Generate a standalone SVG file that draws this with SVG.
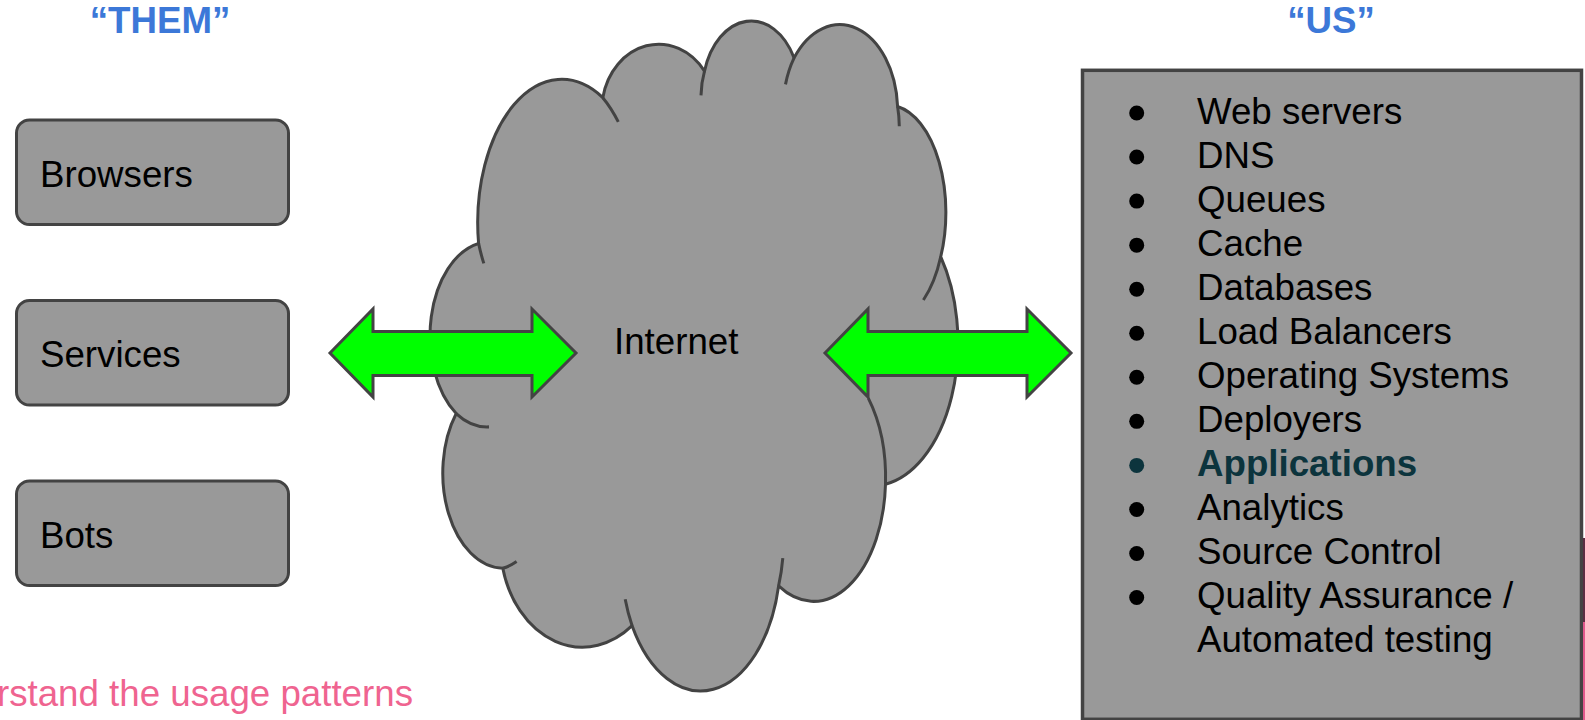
<svg xmlns="http://www.w3.org/2000/svg" width="1585" height="720" viewBox="0 0 1585 720">
<style>
.t{font-family:"Liberation Sans",Arial,sans-serif;font-size:36.7px;fill:#000}
.hdr{font-family:"Liberation Sans",Arial,sans-serif;font-size:36.7px;font-weight:bold;fill:#3c78d8;text-anchor:middle}
.box{fill:#999999;stroke:#434343;stroke-width:3}
.cl{fill:#999999;stroke:#434343;stroke-width:3;stroke-linejoin:round}
.hk{fill:none;stroke:#434343;stroke-width:3}
.arr{fill:#00ff00;stroke:#434343;stroke-width:3;stroke-linejoin:miter}
.bul{fill:#000}
</style>
<rect width="1585" height="720" fill="#ffffff"/>
<g id="headers">
<text class="hdr" x="160" y="33">“THEM”</text>
<text class="hdr" x="1331" y="33">“US”</text>
</g>
<g id="node-browsers">
<rect class="box" x="16.5" y="120" width="272" height="104.5" rx="13"/>
<text class="t" x="40" y="186.5">Browsers</text>
</g>
<g id="node-services">
<rect class="box" x="16.5" y="300.5" width="272" height="104.5" rx="13"/>
<text class="t" x="40" y="367">Services</text>
</g>
<g id="node-bots">
<rect class="box" x="16.5" y="481" width="272" height="104.5" rx="13"/>
<text class="t" x="40" y="547.5">Bots</text>
</g>
<g id="node-internet">
<g transform="translate(0,353) scale(1,1.023) translate(0,-353)">
<path class="cl" d="M602.8,103.4 A57,65 0 0 1 704.5,77.5 A49,70 0 0 1 794.1,64.5 A58,85 0 0 1 897.6,112 A58,105 0 0 1 940.7,258.9 A86,140 0 0 1 885.5,481.3 A72,120 0 0 1 778.6,580.7 A80,132 0 0 1 632.1,619.6 A82,102 0 0 1 502.8,563.4 A61,93 0 0 1 456.2,412.2 A60,92 0 0 1 478.6,245.9 A84,140 0 0 1 602.8,103.4 Z"/>
<path class="hk" d="M602.8,103.4 A84,140 0 0 1 618.3,127.1"/>
<path class="hk" d="M704.5,77.5 A49,70 0 0 0 701,101.2"/>
<path class="hk" d="M794.1,64.5 A58,85 0 0 0 785.5,90.4"/>
<path class="hk" d="M897.6,112 A58,85 0 0 1 899.3,131.4"/>
<path class="hk" d="M940.7,258.9 A58,105 0 0 1 923.4,301.2"/>
<path class="hk" d="M885.5,481.3 A72,120 0 0 0 868.3,397.1"/>
<path class="hk" d="M778.6,580.7 A80,132 0 0 0 782.8,553.5"/>
<path class="hk" d="M632.1,619.6 A80,132 0 0 1 625.2,593.7"/>
<path class="hk" d="M502.8,563.4 A61,93 0 0 0 516.6,556.9"/>
<path class="hk" d="M456.2,412.2 A60,92 0 0 0 489,425.2"/>
<path class="hk" d="M478.6,245.9 A84,140 0 0 0 483.8,265.4"/>
</g>
<text class="t" x="614" y="354">Internet</text>
</g>
<g id="node-us">
<rect x="1082.5" y="70.3" width="499" height="649" fill="#999999" stroke="#434343" stroke-width="3.5"/>
<g class="bullets">
<circle class="bul" cx="1136.7" cy="113" r="7.5"/>
<circle class="bul" cx="1136.7" cy="157.05" r="7.5"/>
<circle class="bul" cx="1136.7" cy="201.1" r="7.5"/>
<circle class="bul" cx="1136.7" cy="245.15" r="7.5"/>
<circle class="bul" cx="1136.7" cy="289.2" r="7.5"/>
<circle class="bul" cx="1136.7" cy="333.25" r="7.5"/>
<circle class="bul" cx="1136.7" cy="377.3" r="7.5"/>
<circle class="bul" cx="1136.7" cy="421.35" r="7.5"/>
<circle cx="1136.7" cy="465.4" r="7.5" fill="#0c343d"/>
<circle class="bul" cx="1136.7" cy="509.45" r="7.5"/>
<circle class="bul" cx="1136.7" cy="553.5" r="7.5"/>
<circle class="bul" cx="1136.7" cy="597.55" r="7.5"/>
</g>
<text class="t" x="1197" y="123.5">Web servers</text>
<text class="t" x="1197" y="167.55">DNS</text>
<text class="t" x="1197" y="211.6">Queues</text>
<text class="t" x="1197" y="255.65">Cache</text>
<text class="t" x="1197" y="299.7">Databases</text>
<text class="t" x="1197" y="343.75">Load Balancers</text>
<text class="t" x="1197" y="387.8">Operating Systems</text>
<text class="t" x="1197" y="431.85">Deployers</text>
<text class="t" x="1197" y="475.9" style="font-weight:bold;fill:#0c343d">Applications</text>
<text class="t" x="1197" y="519.95">Analytics</text>
<text class="t" x="1197" y="564">Source Control</text>
<text class="t" x="1197" y="608.05">Quality Assurance /</text>
<text class="t" x="1197" y="652.1">Automated testing</text>
</g>
<g id="connectors">
<polygon class="arr" points="330,353 373,309 373,331.5 532,331.5 532,309 576,353 532,397 532,375.5 373,375.5 373,397"/>
<polygon class="arr" points="825,353 868,309 868,331.5 1027,331.5 1027,309 1071,353 1027,397 1027,375.5 868,375.5 868,397"/>
</g>
<g id="edge-strip">
<rect x="1583" y="538" width="2" height="84" fill="#5b2d42"/>
<rect x="1583" y="622" width="2" height="98" fill="#e0588c"/>
</g>
<text x="413" y="706" style="font-family:'Liberation Sans',Arial,sans-serif;font-size:36.7px;fill:#ef6490;text-anchor:end">rstand the usage patterns</text>
</svg>
